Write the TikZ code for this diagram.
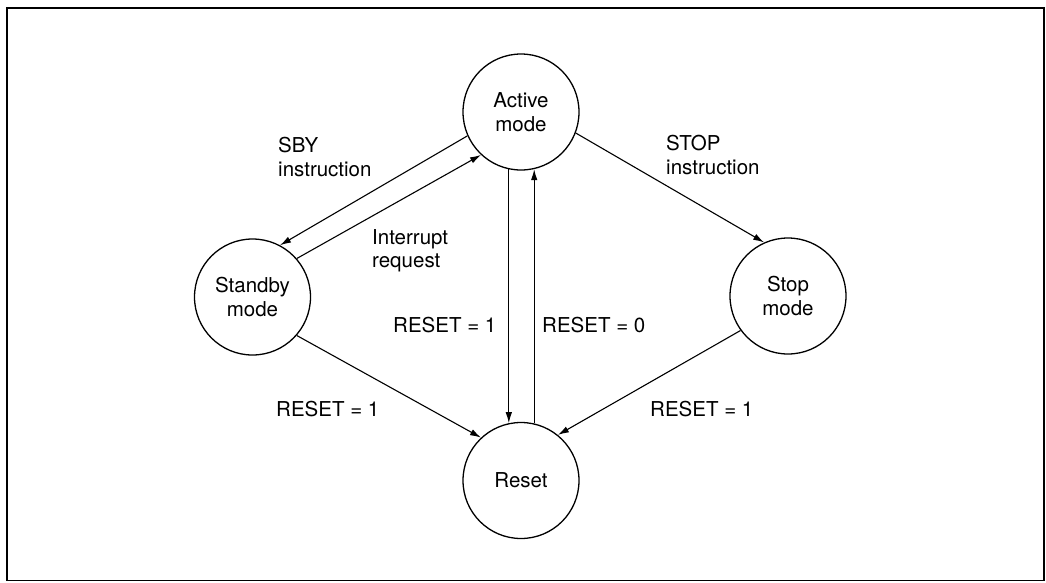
\documentclass[tikz,border=0pt]{standalone}
\usepackage{fontspec}
\setmainfont{TeX Gyre Heros}
\usetikzlibrary{arrows.meta}
\tikzset{
  state/.style={circle, draw, line width=1.3pt, minimum size=116pt, inner sep=0pt, align=center, font=\fontsize{20.5}{23.5}\selectfont},
  lbl/.style={inner sep=0pt, align=left, font=\fontsize{20.5}{23.5}\selectfont},
  conn/.style={line width=1.1pt, -{Latex[length=11pt,width=6.5pt]}},
  frame/.style={line width=1.7pt}
}
\begin{document}
\begin{tikzpicture}[x=1pt,y=-1pt]
\useasboundingbox (0,0) rectangle (1046,582);
\draw[frame] (7,8) rectangle (1044,580.5);
\node[state] (act) at (521,112) {Active\\mode};
\node[state] (sby) at (252.5,297) {Standby\\mode};
\node[state] (stp) at (788,296) {Stop\\mode};
\node[state] (rst) at (521,480.5) {Reset};
\draw[conn] (act.204) -- (sby.62);
\draw[conn] (sby.41) -- (act.227);
\draw[conn] (act.339) -- (stp.114);
\draw[conn] (sby.319) -- (rst.133);
\draw[conn] (stp.216) -- (rst.51.5);
\draw[conn] (act.258) -- (rst.102);
\draw[conn] (rst.77) -- (act.283);
\node[lbl, anchor=north west] (l1) at (278,137) {SBY\\instruction};
\node[lbl, anchor=north west] (l2) at (372,229) {Interrupt\\request};
\node[lbl, anchor=north west] (l3) at (666,135) {STOP\\instruction};
\node[lbl, anchor=west] (l4) at (393,325.5) {RESET = 1};
\node[lbl, anchor=west] (l5) at (542,325.5) {RESET = 0};
\node[lbl, anchor=west] (l6) at (276,409) {RESET = 1};
\node[lbl, anchor=west] (l7) at (650,409) {RESET = 1};
\end{tikzpicture}
\end{document}
